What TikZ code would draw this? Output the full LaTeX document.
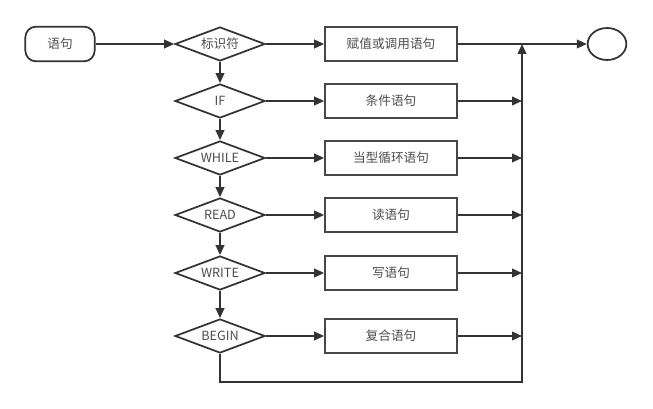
\documentclass[tikz,border=0pt]{standalone}
\usepackage{fontspec}
\setmainfont{Noto Sans CJK SC}
\usetikzlibrary{shapes.geometric,arrows.meta}
\definecolor{linegray}{HTML}{333333}
\definecolor{textgray}{HTML}{4D4D4D}

\begin{document}
\begin{tikzpicture}[x=0.75pt,y=-0.75pt,
  every node/.style={text=textgray,font=\fontsize{9.5}{11}\selectfont},
  line/.style={draw=linegray,line width=1.3pt},
  arr/.style={line,-{Triangle[length=7.5pt,width=6.5pt]}},
  cond/.style={diamond,draw=linegray,line width=1.3pt,aspect=2.65,inner sep=0pt,
    minimum width=67.5pt,minimum height=25.5pt},
  stmt/.style={rectangle,draw=linegray!90,line width=1.3pt,minimum width=99pt,minimum height=25.5pt},
  term/.style={rectangle,rounded corners=8pt,draw=linegray,line width=1.3pt,minimum width=52pt,minimum height=26pt}]
\useasboundingbox (0,0) rectangle (653,409);
\node[term] (S) at (60,44) {语句};
\node[ellipse,draw=linegray,line width=1.3pt,minimum width=29pt,minimum height=24pt,inner sep=0pt] (E) at (607,44) {};
\node[cond] (D1) at (220,44) {标识符};
\node[cond] (D2) at (220,101) {IF};
\node[cond] (D3) at (220,158) {WHILE};
\node[cond] (D4) at (220,215) {READ};
\node[cond] (D5) at (220,273) {WRITE};
\node[cond] (D6) at (220,336) {BEGIN};
\node[stmt] (R1) at (391,44) {赋值或调用语句};
\node[stmt] (R2) at (391,101) {条件语句};
\node[stmt] (R3) at (391,158) {当型循环语句};
\node[stmt] (R4) at (391,215) {读语句};
\node[stmt] (R5) at (391,273) {写语句};
\node[stmt] (R6) at (391,336) {复合语句};
\coordinate (J1) at (522,44);
\coordinate (J2) at (522,101);
\coordinate (J3) at (522,158);
\coordinate (J4) at (522,215);
\coordinate (J5) at (522,273);
\coordinate (J6) at (522,336);
\coordinate (B) at (522,382);
\draw[arr] (S)--(D1);
\foreach \i in {1,...,6} \draw[arr] (D\i)--(R\i);
\foreach \i/\j in {1/2,2/3,3/4,4/5,5/6} \draw[arr] (D\i)--(D\j);
\foreach \i in {2,...,6} \draw[arr] (R\i)--(J\i);
\draw[arr] (R1)--(E);
\draw[arr] (D6.south)|-(B)--(J1);
\end{tikzpicture}
\end{document}
